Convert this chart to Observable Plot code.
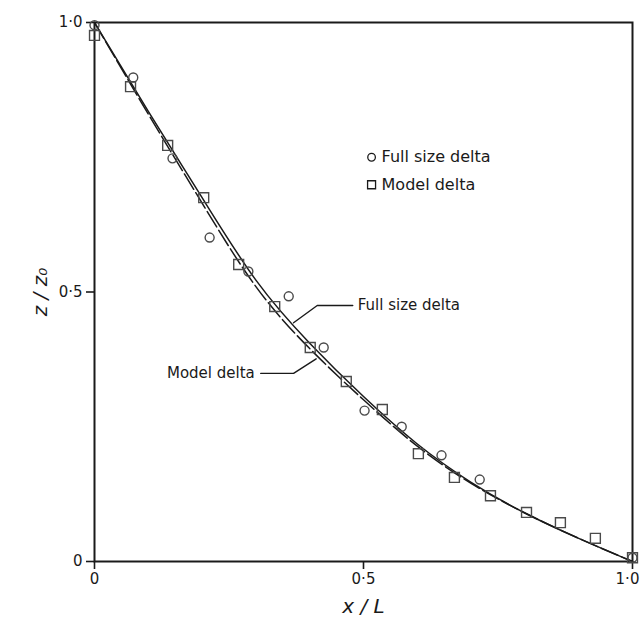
<!DOCTYPE html>
<html>
<head>
<meta charset="utf-8">
<script src="https://cdn.jsdelivr.net/npm/d3@7"></script>
<script src="https://cdn.jsdelivr.net/npm/@observablehq/plot@0.6"></script>
<style>
  html, body { margin: 0; padding: 0; background: #fff; }
  svg { font-family: "DejaVu Sans", sans-serif; }
</style>
</head>
<body>
<div id="chart"></div>
<script>
// Measured points: Full size delta (circles)
const fullX = [0, 0.072, 0.145, 0.214, 0.286, 0.361, 0.426, 0.502, 0.571, 0.645, 0.716, 1.0];
const fullZ = [0.995, 0.898, 0.748, 0.601, 0.538, 0.492, 0.397, 0.280, 0.250, 0.197, 0.152, 0.007];
// Measured points: Model delta (squares)
const modelX = [0, 0.067, 0.136, 0.203, 0.268, 0.335, 0.401, 0.468, 0.535, 0.602, 0.669, 0.736, 0.803, 0.866, 0.931, 1.0];
const modelZ = [0.976, 0.881, 0.772, 0.675, 0.551, 0.473, 0.397, 0.334, 0.282, 0.200, 0.156, 0.122, 0.091, 0.072, 0.043, 0.007];
// Fitted curves
const curveX = [0, 0.1, 0.2, 0.3, 0.4, 0.5, 0.6, 0.7, 0.8, 0.9, 1.0];
const fullCurve = [1.0, 0.835, 0.675, 0.522, 0.405, 0.306, 0.218, 0.147, 0.09, 0.043, 0];
const modelCurve = [1.0, 0.83, 0.665, 0.51, 0.395, 0.300, 0.214, 0.145, 0.09, 0.043, 0];
// Tick labels
const tickValues = [0, 0.5, 1.0];
const tickLabels = ["0", "0·5", "1·0"];
// Annotation labels and legend
const seriesNames = ["Full size delta", "Model delta"];
const fullLeaderX = [0.370, 0.414, 0.480];
const fullLeaderZ = [0.443, 0.475, 0.475];
const modelLeaderX = [0.309, 0.370, 0.412];
const modelLeaderZ = [0.349, 0.349, 0.376];
const legendX = 0.515;
const legendZ = [0.750, 0.699];

const full = fullX.map((x, i) => ({x, z: fullZ[i]}));
const model = modelX.map((x, i) => ({x, z: modelZ[i]}));
const fullLine = curveX.map((x, i) => ({x, z: fullCurve[i]}));
const modelLine = curveX.map((x, i) => ({x, z: modelCurve[i]}));
const fullLeader = fullLeaderX.map((x, i) => ({x, z: fullLeaderZ[i]}));
const modelLeader = modelLeaderX.map((x, i) => ({x, z: modelLeaderZ[i]}));
const fmt = v => tickLabels[tickValues.indexOf(v)];
const ink = "#1a1a1a";
const markInk = "#4a4a4a";

const chart = Plot.plot({
  width: 642,
  height: 624,
  marginLeft: 94,
  marginRight: 10,
  marginTop: 22,
  marginBottom: 63,
  x: {domain: [0, 1], label: null},
  y: {domain: [0, 1], label: null},
  style: {fontFamily: "DejaVu Sans, sans-serif", color: ink, background: "#fff"},
  marks: [
    Plot.frame({stroke: ink, strokeWidth: 2}),
    Plot.axisX({ticks: tickValues, tickFormat: fmt, tickSize: 8, stroke: ink, strokeWidth: 1.6, text: null, label: null}),
    Plot.axisX({ticks: tickValues.slice(0, 2), tickFormat: fmt, tickSize: 0, tickPadding: 12, fontSize: 15, label: null}),
    Plot.axisX({ticks: tickValues.slice(2), tickFormat: fmt, tickSize: 0, tickPadding: 12, fontSize: 15, dx: -5, label: null}),
    Plot.axisY({ticks: tickValues, tickFormat: fmt, tickSize: 8, tickPadding: 4, fontSize: 15, stroke: ink, strokeWidth: 1.6, label: null}),
    Plot.line(modelLine, {x: "x", y: "z", curve: "natural", stroke: ink, strokeWidth: 1.5, strokeDasharray: "18,4"}),
    Plot.line(fullLine, {x: "x", y: "z", curve: "natural", stroke: ink, strokeWidth: 1.5}),
    Plot.dot(full, {x: "x", y: "z", r: 4.5, stroke: markInk, strokeWidth: 1.4, fill: "none"}),
    Plot.dot(model, {x: "x", y: "z", r: 5.6, symbol: "square", stroke: markInk, strokeWidth: 1.4, fill: "none"}),
    Plot.line(fullLeader, {x: "x", y: "z", stroke: ink, strokeWidth: 1.4}),
    Plot.line(modelLeader, {x: "x", y: "z", stroke: ink, strokeWidth: 1.4}),
    Plot.text([seriesNames[0]], {x: fullLeaderX[2], y: fullLeaderZ[2], text: d => d, dx: 5, textAnchor: "start", fontSize: 15, fill: ink}),
    Plot.text([seriesNames[1]], {x: modelLeaderX[0], y: modelLeaderZ[0], text: d => d, dx: -6, textAnchor: "end", fontSize: 15, fill: ink}),
    Plot.dot([0], {x: legendX, y: legendZ[0], r: 3.8, stroke: ink, strokeWidth: 1.3, fill: "none"}),
    Plot.dot([0], {x: legendX, y: legendZ[1], r: 4.5, symbol: "square", stroke: ink, strokeWidth: 1.3, fill: "none"}),
    Plot.text(seriesNames, {x: legendX, y: (d, i) => legendZ[i], text: d => d, dx: 10, textAnchor: "start", fontSize: 16, fill: ink}),
    Plot.text(["x / L"], {x: 0.5, y: 0, text: d => d, dy: 45, fontSize: 20, fontStyle: "italic", fill: ink}),
    Plot.text(["z / z₀"], {x: 0, y: 0.5, text: d => d, dx: -54, rotate: -90, fontSize: 20, fontStyle: "italic", fill: ink})
  ]
});
document.getElementById("chart").appendChild(chart);
</script>
</body>
</html>
